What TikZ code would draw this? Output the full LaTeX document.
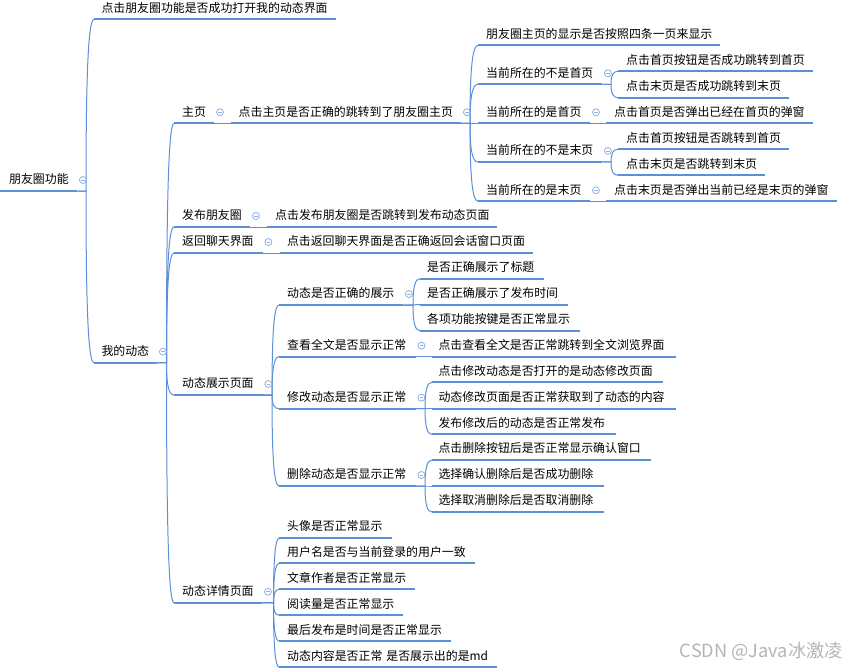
\documentclass[tikz,border=0pt]{standalone}
\usepackage{fontspec}
\setmainfont{Noto Sans CJK SC}
\usetikzlibrary{calc}
\definecolor{mapblue}{HTML}{5B8FD6}
\definecolor{foldblue}{HTML}{8FB0E0}
\definecolor{markgray}{HTML}{B4B4B4}
\tikzset{
  topic/.style={anchor=south west,inner xsep=0pt,inner ysep=4pt,text height=10pt,text depth=3pt,align=left,font=\fontsize{11.9}{14}\selectfont,text=black},
  uline/.style={draw=mapblue,line width=2pt},
  branch/.style={draw=mapblue,line width=1pt},
  foldmark/.style={circle,draw=foldblue,line width=.8pt,inner sep=0pt,minimum size=7pt,
    path picture={\draw[foldblue,line width=.7pt] ([xshift=-1.8pt]path picture bounding box.center) -- ([xshift=1.8pt]path picture bounding box.center);}},
  watermark/.style={text=markgray,font=\fontsize{18.2}{20}\selectfont,inner sep=0pt}
}
% [text indent], name, x0, x1, y of underline, text
\newcommand\topicnode[6][8]{%
  \node[topic,text width={#4pt-#3pt}] (#2) at (#3,#5) {\hspace*{#1pt}#6};
  \draw[uline] (#2.south west) -- (#2.south east);}
\newcommand\foldnode[1]{\node[foldmark] (#1-fold) at ([shift={(5.5,-11)}]#1.south east) {};}
% from, to, x of branch
\newcommand\conn[3]{\draw[branch] let \p1=(#1.south east),\p2=(#2.south west) in
  (\p1) -- (#3pt,\y1) .. controls (#3pt,{\y1+0.7*(\y2-\y1)}) and ({#3pt+0.3*(\x2-#3pt)},\y2) .. (\p2);}
\begin{document}
\begin{tikzpicture}[x=1pt,y=-1pt]
\useasboundingbox (0,0) rectangle (858,671);
\topicnode[9]{root}{0}{77}{191}{朋友圈功能}
\topicnode[7.3]{open}{94}{336}{19.5}{点击朋友圈功能是否成功打开我的动态界面}
\topicnode[7.3]{mine}{94}{157}{362.7}{我的动态}
\topicnode{home}{174}{214}{123.3}{主页}
\topicnode[7.5]{homejump}{231}{461}{123.3}{点击主页是否正确的跳转到了朋友圈主页}
\topicnode{four}{478}{720}{45.3}{朋友圈主页的显示是否按照四条一页来显示}
\topicnode{notfirst}{478}{602}{84.3}{当前所在的不是首页}
\topicnode{nf1}{618}{813}{71.3}{点击首页按钮是否成功跳转到首页}
\topicnode{nf2}{618}{789}{97.7}{点击末页是否成功跳转到末页}
\topicnode{isfirst}{478}{590}{123.3}{当前所在的是首页}
\topicnode{if1}{606}{813}{123.3}{点击首页是否弹出已经在首页的弹窗}
\topicnode{notlast}{478}{602}{162}{当前所在的不是末页}
\topicnode{nl1}{618}{789}{149.3}{点击首页按钮是否跳转到首页}
\topicnode{nl2}{618}{765}{175.3}{点击末页是否跳转到末页}
\topicnode{islast}{478}{590}{201.3}{当前所在的是末页}
\topicnode{il1}{606}{837}{201.3}{点击末页是否弹出当前已经是末页的弹窗}
\topicnode{post}{174}{250}{227}{发布朋友圈}
\topicnode{postjump}{267}{497}{227}{点击发布朋友圈是否跳转到发布动态页面}
\topicnode{back}{174}{262.5}{253}{返回聊天界面}
\topicnode[7.3]{backjump}{279.5}{533}{253}{点击返回聊天界面是否正确返回会话窗口页面}
\topicnode{show}{174}{262.5}{395}{动态展示页面}
\topicnode{right}{279}{403}{305}{动态是否正确的展示}
\topicnode[7]{r1}{420}{543.5}{278.7}{是否正确展示了标题}
\topicnode[7]{r2}{420}{567.8}{304.7}{是否正确展示了发布时间}
\topicnode[7]{r3}{420}{580}{330.7}{各项功能按键是否正常显示}
\topicnode{full}{279}{415.5}{356.7}{查看全文是否显示正常}
\topicnode[6.3]{f1}{432}{676}{356.7}{点击查看全文是否正常跳转到全文浏览界面}
\topicnode{edit}{279}{415.5}{408.7}{修改动态是否显示正常}
\topicnode[6.3]{e1}{432}{663}{382.3}{点击修改动态是否打开的是动态修改页面}
\topicnode[6.3]{e2}{432}{676}{408.7}{动态修改页面是否正常获取到了动态的内容}
\topicnode[6.3]{e3}{432}{615.6}{434.3}{发布修改后的动态是否正常发布}
\topicnode{del}{279}{415.5}{486}{删除动态是否显示正常}
\topicnode[6.3]{d1}{432}{651}{460}{点击删除按钮后是否正常显示确认窗口}
\topicnode[6.3]{d2}{432}{603.5}{486}{选择确认删除后是否成功删除}
\topicnode[6.3]{d3}{432}{603.5}{512}{选择取消删除后是否取消删除}
\topicnode{detail}{174}{262}{602.7}{动态详情页面}
\topicnode[7.6]{a1}{279.4}{391.5}{538}{头像是否正常显示}
\topicnode[7.6]{a2}{279.4}{475}{563.3}{用户名是否与当前登录的用户一致}
\topicnode[7.6]{a3}{279.4}{415}{589.3}{文章作者是否正常显示}
\topicnode[7.6]{a4}{279.4}{403}{615.3}{阅读量是否正常显示}
\topicnode[7.6]{a5}{279.4}{451}{641.3}{最后发布是时间是否正常显示}
\topicnode[7.6]{a6}{279.4}{497}{667.3}{动态内容是否正常 是否展示出的是md}
% connectors
\conn{root}{open}{86}
\conn{root}{mine}{86}
\conn{mine}{home}{166.5}
\conn{mine}{post}{166.5}
\conn{mine}{back}{166.5}
\conn{mine}{show}{166.5}
\conn{mine}{detail}{166.5}
\conn{home}{homejump}{231}
\conn{homejump}{four}{470}
\conn{homejump}{notfirst}{470}
\conn{homejump}{isfirst}{470}
\conn{homejump}{notlast}{470}
\conn{homejump}{islast}{470}
\conn{notfirst}{nf1}{611}
\conn{notfirst}{nf2}{611}
\conn{isfirst}{if1}{606}
\conn{notlast}{nl1}{611}
\conn{notlast}{nl2}{611}
\conn{islast}{il1}{606}
\conn{post}{postjump}{267}
\conn{back}{backjump}{279.5}
\conn{show}{right}{272}
\conn{show}{full}{272}
\conn{show}{edit}{272}
\conn{show}{del}{272}
\conn{right}{r1}{413}
\conn{right}{r2}{413}
\conn{right}{r3}{413}
\conn{full}{f1}{432}
\conn{edit}{e1}{425}
\conn{edit}{e2}{425}
\conn{edit}{e3}{425}
\conn{del}{d1}{425}
\conn{del}{d2}{425}
\conn{del}{d3}{425}
\conn{detail}{a1}{273.5}
\conn{detail}{a2}{273.5}
\conn{detail}{a3}{273.5}
\conn{detail}{a4}{273.5}
\conn{detail}{a5}{273.5}
\conn{detail}{a6}{273.5}
% collapse marks
\foreach \n in {root,mine,home,homejump,notfirst,isfirst,notlast,islast,post,back,show,right,full,edit,del,detail}{\foldnode{\n}}
\node[watermark,anchor=east] (csdn) at (843,651.5) {CSDN @Java冰激凌};
\end{tikzpicture}
\end{document}
